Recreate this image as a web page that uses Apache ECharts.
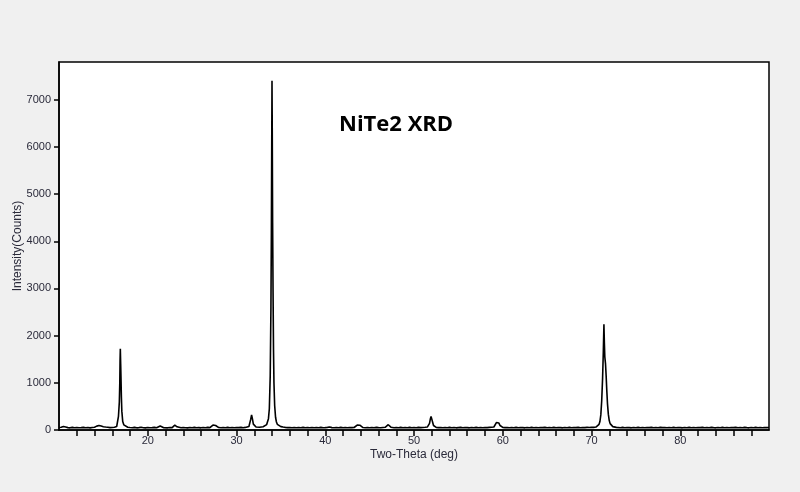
<!DOCTYPE html>
<html>
<head>
<meta charset="utf-8">
<script src="https://cdn.jsdelivr.net/npm/echarts@6/dist/echarts.min.js"></script>
<style>
html,body{margin:0;padding:0;background:#f0f0f0;}
#chart{width:800px;height:492px;}
</style>
</head>
<body>
<div id="chart"></div>
<script>
// [2θ (deg), counts]
const scan10to20 = [
[10.0,52],[10.25,58],[10.5,74],[10.75,62],[11.0,50],[11.25,46],[11.5,55],[11.75,49],[12.0,53],[12.25,47],
[12.5,50],[12.75,56],[13.0,48],[13.25,52],[13.5,45],[13.75,54],[14.0,60],[14.25,82],[14.5,95],[14.75,84],
[15.0,70],[15.25,62],[15.5,57],[15.75,50],[16.0,54],[16.25,58],[16.4,66],[16.5,74],[16.6,110],[16.7,290],
[16.8,600],[16.85,1000],[16.88,1480],[16.91,1720],[16.95,1400],[16.98,1150],[17.03,700],[17.08,400],[17.18,180],
[17.3,110],[17.4,82],[17.5,70],[17.75,58],[18.0,52],[18.25,48],[18.5,55],[18.75,46],[19.0,51],[19.25,57],
[19.5,49],[19.75,45]
];
const scan20to33 = [
[20.0,53],[20.25,48],[20.5,50],[20.75,55],[21.0,47],[21.2,56],[21.4,85],[21.6,58],[21.8,49],[22.0,52],
[22.25,46],[22.5,54],[22.75,50],[22.9,62],[23.05,102],[23.15,112],[23.3,68],[23.5,50],[23.75,47],[24.0,53],
[24.25,49],[24.5,45],[24.75,52],[25.0,48],[25.25,55],[25.5,47],[25.75,51],[26.0,46],[26.25,53],[26.5,49],
[26.75,55],[27.0,50],[27.2,62],[27.35,105],[27.5,128],[27.65,95],[27.8,62],[28.0,52],[28.25,47],[28.5,53],
[28.75,49],[29.0,55],[29.25,48],[29.5,52],[29.75,46],[30.0,53],[30.25,50],[30.5,56],[30.75,48],[31.0,55],
[31.2,60],[31.4,75],[31.5,115],[31.6,225],[31.7,320],[31.8,230],[31.9,125],[32.0,85],[32.2,62],[32.4,55],
[32.6,58],[32.8,64]
];
const scan33to50 = [
[33.0,70],[33.2,85],[33.4,115],[33.5,150],[33.6,240],[33.7,450],[33.8,1150],[33.88,2600],[33.93,4200],
[33.97,6100],[34.0,7400],[34.03,6300],[34.07,4400],[34.12,2900],[34.17,1700],[34.22,1000],[34.3,520],
[34.4,270],[34.5,170],[34.6,120],[34.75,90],[35.0,72],[35.25,62],[35.5,56],[35.75,51],[36.0,54],[36.25,48],
[36.5,52],[36.75,46],[37.0,53],[37.25,49],[37.5,55],[37.75,47],[38.0,51],[38.25,48],[38.5,54],[38.75,46],
[39.0,52],[39.25,49],[39.5,55],[39.75,47],[40.0,51],[40.25,56],[40.5,62],[40.75,50],[41.0,47],[41.25,53],
[41.5,49],[41.75,55],[42.0,48],[42.25,52],[42.5,46],[42.75,54],[43.0,50],[43.25,53],[43.45,68],[43.6,105],
[43.75,140],[43.9,102],[44.05,66],[44.25,52],[44.5,48],[44.75,54],[45.0,49],[45.25,53],[45.5,47],[45.75,55],
[46.0,50],[46.25,48],[46.5,54],[46.75,58],[46.95,88],[47.1,112],[47.25,86],[47.4,60],[47.6,52],[47.75,48],
[48.0,54],[48.25,49],[48.5,55],[48.75,47],[49.0,52],[49.25,49],[49.5,55],[49.75,48]
];
const scan50to70 = [
[50.0,53],[50.25,49],[50.5,56],[50.75,51],[51.0,54],[51.25,57],[51.5,62],[51.65,80],[51.75,140],[51.85,240],
[51.92,285],[52.0,235],[52.1,165],[52.2,95],[52.35,66],[52.5,56],[52.75,50],[53.0,54],[53.25,48],[53.5,52],
[53.75,47],[54.0,55],[54.25,49],[54.5,53],[54.75,46],[55.0,51],[55.25,55],[55.5,48],[55.75,53],[56.0,50],
[56.25,46],[56.5,54],[56.75,49],[57.0,55],[57.25,48],[57.5,52],[57.75,47],[58.0,53],[58.25,50],[58.5,55],
[58.75,57],[59.0,64],[59.15,95],[59.3,160],[59.42,202],[59.55,150],[59.7,95],[59.85,66],[60.0,56],[60.25,50],
[60.5,54],[60.75,48],[61.0,52],[61.25,49],[61.5,55],[61.75,47],[62.0,53],[62.25,50],[62.5,46],[62.75,54],
[63.0,49],[63.25,55],[63.5,48],[63.75,52],[64.0,47],[64.25,54],[64.5,50],[64.75,56],[65.0,48],[65.25,52],
[65.5,49],[65.75,55],[66.0,47],[66.25,53],[66.5,50],[66.75,46],[67.0,54],[67.25,49],[67.5,55],[67.75,48],
[68.0,52],[68.25,50],[68.5,56],[68.75,49],[69.0,54],[69.25,51],[69.5,55],[69.75,52]
];
const scan70to90 = [
[70.0,58],[70.25,56],[70.5,63],[70.7,80],[70.85,120],[70.95,180],[71.05,320],[71.15,620],[71.25,1100],
[71.33,1650],[71.4,2240],[71.45,1850],[71.5,1550],[71.58,1400],[71.65,1150],[71.72,850],[71.8,560],[71.9,330],
[72.0,200],[72.1,135],[72.25,95],[72.4,72],[72.6,62],[72.8,56],[73.0,52],[73.25,49],[73.5,55],[73.75,48],
[74.0,53],[74.25,50],[74.5,46],[74.75,54],[75.0,49],[75.25,55],[75.5,48],[75.75,52],[76.0,47],[76.25,54],
[76.5,50],[76.75,56],[77.0,49],[77.25,53],[77.5,48],[77.75,55],[78.0,50],[78.25,54],[78.5,47],[78.75,52],
[79.0,49],[79.25,55],[79.5,48],[79.75,53],[80.0,50],[80.25,46],[80.5,54],[80.75,49],[81.0,55],[81.25,48],
[81.5,52],[81.75,47],[82.0,54],[82.25,50],[82.5,56],[82.75,49],[83.0,53],[83.25,48],[83.5,55],[83.75,50],
[84.0,46],[84.25,54],[84.5,49],[84.75,55],[85.0,48],[85.25,52],[85.5,47],[85.75,54],[86.0,50],[86.25,56],
[86.5,49],[86.75,53],[87.0,48],[87.25,55],[87.5,50],[87.75,46],[88.0,54],[88.25,49],[88.5,55],[88.75,48],
[89.0,52],[89.25,47],[89.5,54],[89.75,50],[90.0,53]
];

const xTickValues = [12,14,16,18,20,22,24,26,28,30,32,34,36,38,40,42,44,46,48,50,52,54,56,58,60,62,64,66,68,70,72,74,76,78,80,82,84,86,88];
const xLabelValues = [20,30,40,50,60,70,80];
const yTickValues = [0,1000,2000,3000,4000,5000,6000,7000];

const scanData = [].concat(scan10to20, scan20to33, scan33to50, scan50to70, scan70to90);

const chart = echarts.init(document.getElementById('chart'), null, {renderer:'canvas'});
const axisFont = {fontFamily:'Liberation Sans, Arial, sans-serif', fontSize:11, color:'#2a2a3a'};
chart.setOption({
  animation:false,
  backgroundColor:'#f0f0f0',
  title:{
    text:'NiTe2 XRD', left:339, top:114, padding:0,
    textStyle:{fontFamily:'Open Sans', fontWeight:'bold', fontSize:22, color:'#000'}
  },
  grid:{left:59, right:31, top:62, bottom:62, outerBoundsMode:'none', containLabel:false,
        show:true, backgroundColor:'#fff', borderColor:'#000', borderWidth:1.5},
  xAxis:{
    type:'value', min:10, max:90,
    name:'Two-Theta (deg)', nameLocation:'middle', nameGap:19, nameMoveOverlap:false,
    nameTextStyle:{fontFamily:'Liberation Sans, Arial, sans-serif', fontSize:12, color:'#2a2a3a'},
    axisLine:{show:true, onZero:false, lineStyle:{color:'#000', width:1.5}},
    axisTick:{show:true, inside:false, length:6, lineStyle:{color:'#000', width:1.5}, customValues:xTickValues},
    axisLabel:Object.assign({margin:5, customValues:xLabelValues, formatter:function(v){return String(v);}}, axisFont),
    splitLine:{show:false}
  },
  yAxis:{
    type:'value', min:0, max:7800,
    name:'Intensity(Counts)', nameLocation:'middle', nameGap:35, nameMoveOverlap:false,
    nameTextStyle:{fontFamily:'Liberation Sans, Arial, sans-serif', fontSize:12, color:'#2a2a3a'},
    axisLine:{show:true, lineStyle:{color:'#000', width:1.5}},
    axisTick:{show:true, inside:false, length:5, lineStyle:{color:'#000', width:1.5}, customValues:yTickValues},
    axisLabel:Object.assign({margin:8, customValues:yTickValues, formatter:function(v){return String(v);}}, axisFont),
    splitLine:{show:false}
  },
  series:[{
    type:'line', data:scanData, showSymbol:false, symbol:'none',
    lineStyle:{color:'#000', width:1.6}, silent:true
  }]
});
</script>
</body>
</html>
